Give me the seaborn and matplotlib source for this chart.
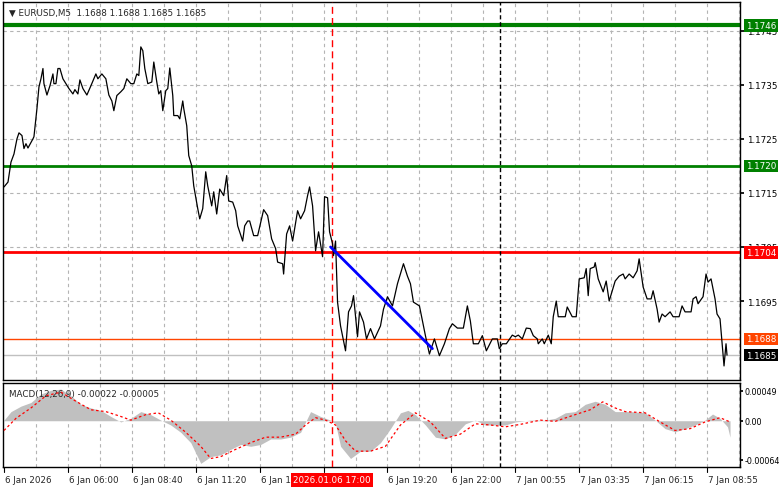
import matplotlib
matplotlib.use("Agg")
import matplotlib.pyplot as plt
import matplotlib.transforms as mtrans
import seaborn as sns
import pandas as pd

sns.set_theme(style="white")
plt.rcParams['font.family'] = ['DejaVu Sans']

bars = [0,2,3.5,5,6.5,7.5,9,10,11,12,14.5,15,16.5,17.5,18.5,19.5,20,21.5,23,24.5,25,26,27,28,29.5,31,32.5,34.5,35.5,37,38,39.5,41.5,43.5,46,47,49,51,52.5,54,55,56.5,58.5,60,61.5,63.5,65,66.5,67.5,68.5,69.5,70.5,72,74,75,76.5,77.5,78.5,79.5,81,82,83,84.5,85,87,88,89.5,90,91.5,92.5,94,95,97,98,99.5,101,102,104,105,106.5,108,110,111.5,112.5,114.5,116,117,119.5,120.5,122,123,125,127,130,132,134,136,137,139.5,140,141.5,143,144.5,147,148.5,150.5,152,153,154.5,156,157.5,159.5,160.5,162,163,164.5,165,166,167,168.5,171,172.5,174,175,177,178,180,181.5,183.5,185.5,188.5,190,192,194.5,197,200,202,203.5,205,208,210,211,213,215.5,218,220.5,223,224.5,227,230,232,233.5,235,237.5,239.5,241.5,244.5,247,248,249.5,251.5,254.5,256,257.5,259.5,261.5,263.5,265,267,267.5,269.5,270.5,272.5,274,275,276.5,277.5,281,282,284.5,286.5,288,290.5,291.5,292.5,293.5,295.5,296,297.5,300,301.5,303,306,308,310,311,313,315,317,318,320,322,324,325,327,328,329.5,331,333.5,335,338,339.5,341,344,345,346.5,347.5,350,351.5,352.5,354,356,357,358.5,359.5,360.5,361.5,362]
close = [1.17161,1.17170,1.17207,1.17222,1.17250,1.17261,1.17256,1.17232,1.17241,1.17233,1.17250,1.17254,1.17306,1.17346,1.17361,1.17380,1.17352,1.17331,1.17348,1.17370,1.17352,1.17352,1.17380,1.17380,1.17361,1.17352,1.17343,1.17333,1.17341,1.17333,1.17359,1.17343,1.17331,1.17348,1.17370,1.17361,1.17370,1.17361,1.17331,1.17320,1.17302,1.17330,1.17337,1.17343,1.17361,1.17352,1.17352,1.17370,1.17367,1.17420,1.17413,1.17380,1.17352,1.17355,1.17392,1.17355,1.17333,1.17339,1.17302,1.17339,1.17343,1.17381,1.17330,1.17293,1.17293,1.17287,1.17320,1.17306,1.17274,1.17219,1.17200,1.17163,1.17121,1.17102,1.17121,1.17189,1.17163,1.17126,1.17152,1.17111,1.17157,1.17145,1.17182,1.17135,1.17133,1.17117,1.17089,1.17061,1.17089,1.17098,1.17098,
         1.17071,1.17071,1.17119,1.17108,1.17065,1.17047,1.17022,1.17019,1.17000,1.17074,1.17089,1.17061,1.17117,1.17102,1.17117,1.17145,1.17161,1.17126,1.17043,1.17078,1.17032,1.17143,1.17141,1.17078,1.17056,1.17034,1.17061,1.16948,1.16904,1.16858,1.16930,1.16941,1.16960,1.16884,1.16930,1.16911,1.16880,1.16899,1.16880,1.16904,1.16935,1.16958,1.16941,1.16982,1.17019,1.16996,1.16982,1.16948,1.16941,1.16904,1.16886,1.16852,1.16880,1.16849,1.16871,1.16899,1.16908,1.16900,1.16900,1.16941,1.16913,1.16871,1.16871,1.16886,1.16858,1.16880,1.16880,1.16862,1.16871,1.16871,1.16887,1.16884,1.16887,1.16880,1.16900,1.16899,1.16886,1.16880,1.16871,1.16880,1.16871,1.16887,1.16871,1.16921,1.16950,1.16921,1.16921,1.16939,1.16921,1.16921,1.16991,1.16993,1.17010,1.16960,1.17010,1.17013,1.17021,1.16991,1.16967,1.16987,1.16950,1.16987,1.16996,1.17000,1.16991,1.17000,1.16993,1.17006,1.17028,1.16976,1.16954,1.16954,1.16969,1.16935,1.16911,1.16926,1.16921,1.16930,1.16921,1.16921,1.16941,1.16930,1.16930,1.16954,1.16958,1.16945,1.16958,1.17000,1.16985,1.16991,1.16954,1.16926,1.16917,1.16874,1.16830,1.16871,1.16850]

hist_bars = [0,3.5,8.5,13.5,18.5,23.5,28.5,33.5,38.5,43.5,48.5,53.5,58.5,63.5,68.5,73.5,78.5,83.5,88.5,93.5,98.5,103.5,108.5,113.5,118.5,123.5,128.5,133.5,138.5,143.5,148.5,153.5,158.5,163.5,166,168.5,173.5,178.5,183.5,188.5,193.5,198.5,202.25,206,211,216,221,226,231,236,241,246,251,256,263.5,271,276,281,286,291,296,301,306,313.5,321,326,331,336,341,346,351,354.75,358.5,362.25,363.5]
hist_vals = [0.00001,0.00015,0.00024,0.00030,0.00044,0.00050,0.00052,0.00041,0.00027,0.00021,0.00017,0.00007,-0.00002,0.00004,0.00015,0.00010,0.00001,-0.00007,-0.00019,-0.00036,-0.00070,-0.00059,-0.00056,-0.00047,-0.00039,-0.00042,-0.00039,-0.00030,-0.00030,-0.00027,-0.00019,0.00015,0.00007,0.00001,-0.00005,-0.00042,-0.00062,-0.00050,-0.00050,-0.00036,-0.00013,0.00013,0.00017,0.00010,-0.00007,-0.00027,-0.00030,-0.00022,-0.00005,0.00001,-0.00007,-0.00007,-0.00007,-0.00002,0.00001,0.00001,0.00004,0.00013,0.00015,0.00027,0.00032,0.00027,0.00015,0.00015,0.00013,0.00001,-0.00013,-0.00018,-0.00013,-0.00007,0.00001,0.00011,0.00004,-0.00010,-0.00027]
sig_bars = [0,6,13.5,21,28.5,36,43.5,51,58.5,63.5,71,77.25,83.5,91,98.5,103.5,108.5,116,123.5,131,138.5,146,151,156,161,166,171,176,183.5,191,198.5,206,213.5,221,228.5,236,243.5,251,258.5,268.5,276,286,293.5,299.75,306,311,321,328.5,336,343.5,351,358.5,363.5]
sig_vals = [-0.00016,0.00004,0.00021,0.00041,0.00047,0.00032,0.00018,0.00015,0.00007,0.00001,0.00010,0.00013,0.00001,-0.00019,-0.00042,-0.00062,-0.00059,-0.00047,-0.00036,-0.00027,-0.00027,-0.00022,-0.00007,0.00005,0.00001,-0.00007,-0.00033,-0.00050,-0.00050,-0.00042,-0.00007,0.00013,-0.00002,-0.00029,-0.00022,-0.00005,-0.00007,-0.00010,-0.00006,0.00001,-0.00001,0.00010,0.00018,0.00031,0.00021,0.00015,0.00013,-0.00002,-0.00016,-0.00013,-0.00002,0.00005,-0.00002]

tick_labels = ["6 Jan 2026","6 Jan 06:00","6 Jan 08:40","6 Jan 11:20","6 Jan 14:00","6 Jan 16:40",
               "6 Jan 19:20","6 Jan 22:00","7 Jan 00:55","7 Jan 03:35","7 Jan 06:15","7 Jan 08:55"]
price_ticks = [1.1745,1.1735,1.1725,1.1715,1.1705,1.1695]
levels = [(1.1746,'#008000',3),(1.1720,'#008000',2),(1.1704,'#ff0000',2),(1.1688,'#ff4500',1),(1.1685,'#c0c0c0',1)]
trend = ([163.5,214.5],[1.17050,1.16862])
cursor_bar, cursor_label = 164, "2026.01.06 17:00"
sep_bar = 248.5

FS = 6.3
W, H = 781, 489
fig = plt.figure(figsize=(W/100, H/100), dpi=100)
fig.patch.set_facecolor('white')
L, R = 3/W, 740/W
ax = fig.add_axes([L, 1-381/H, R-L, 378/H])
mx = fig.add_axes([L, 1-468/H, R-L, 84/H])

xl = (-0.5, 368.5)
for a in (ax, mx):
    a.set_xlim(*xl)
    for s in a.spines.values():
        s.set_color('black'); s.set_linewidth(1)
    for b in range(16, 369, 16):
        a.axvline(b, color='#b4b4b4', lw=0.8, ls=(0, (3, 3)), zorder=0)
    a.axvline(cursor_bar, color='#ff0000', lw=1, ls=(0, (5, 3)), zorder=3)
    a.axvline(sep_bar, color='black', lw=1, ls=(0, (3, 2)), zorder=3)
    a.set_xticks([])

ax.set_ylim(1.16804, 1.17503)
for p in price_ticks:
    ax.axhline(p, color='#b4b4b4', lw=0.8, ls=(0, (3, 3)), zorder=0)
for p, c, lw in levels:
    ax.axhline(p, color=c, lw=lw, zorder=2)

df = pd.DataFrame({'bar': bars, 'close': close})
sns.lineplot(data=df, x='bar', y='close', ax=ax, color='black', lw=0.9, zorder=4)
sns.lineplot(x=trend[0], y=trend[1], ax=ax, color='#0000ff', lw=2, zorder=5)
ax.set_xlabel(''); ax.set_ylabel('')
ax.yaxis.tick_right()
ax.set_yticks(price_ticks)
ax.set_yticklabels([f"{p:.4f}" for p in price_ticks], fontsize=FS)
ax.tick_params(axis='y', length=3, pad=2, colors='black')
trans = mtrans.blended_transform_factory(ax.transAxes, ax.transData)
for p, c, lw in levels:
    fc = 'black' if c == '#c0c0c0' else c
    ax.text(1.008, p, f"{p:.4f}", transform=trans, fontsize=FS, color='white', va='center', ha='left',
            bbox=dict(boxstyle='square,pad=0.2', fc=fc, ec='none'), zorder=10, clip_on=False)
ax.text(0.008, 0.985, "\u25bc EURUSD,M5  1.1688 1.1688 1.1685 1.1685", transform=ax.transAxes,
        fontsize=FS, va='top', ha='left')

mx.set_ylim(-0.00076, 0.00062)
mx.fill_between(hist_bars, hist_vals, 0, color='#c0c0c0', lw=0, zorder=2)
sns.lineplot(x=sig_bars, y=sig_vals, ax=mx, color='#ff0000', lw=0.9, ls=(0, (2, 2)), zorder=4)
mx.set_xlabel(''); mx.set_ylabel('')
mx.yaxis.tick_right()
mticks = [0.00049, 0.0, -0.00064]
mx.set_yticks(mticks)
mx.set_yticklabels(["0.00049", "0.00", "-0.00064"], fontsize=5.8)
mx.tick_params(axis='y', length=2, pad=1, colors='black')
mx.text(0.008, 0.93, "MACD(12,26,9) -0.00022 -0.00005", transform=mx.transAxes, fontsize=FS, va='top', ha='left')

xt = mtrans.blended_transform_factory(mx.transData, mx.transAxes)
for i, lab in enumerate(tick_labels):
    b = i * 32
    mx.plot([b, b], [0, -0.06], color='black', lw=0.8, transform=xt, clip_on=False)
    if lab == "6 Jan 16:40":
        continue
    mx.text(b + 0.5, -0.1, lab, transform=xt, fontsize=FS, va='top', ha='left', clip_on=False)
mx.text(cursor_bar, -0.1, cursor_label, transform=xt, fontsize=FS, va='top', ha='center', color='white',
        bbox=dict(boxstyle='square,pad=0.25', fc='#ff0000', ec='none'), clip_on=False, zorder=10)

fig.savefig('out.png', dpi=100)
